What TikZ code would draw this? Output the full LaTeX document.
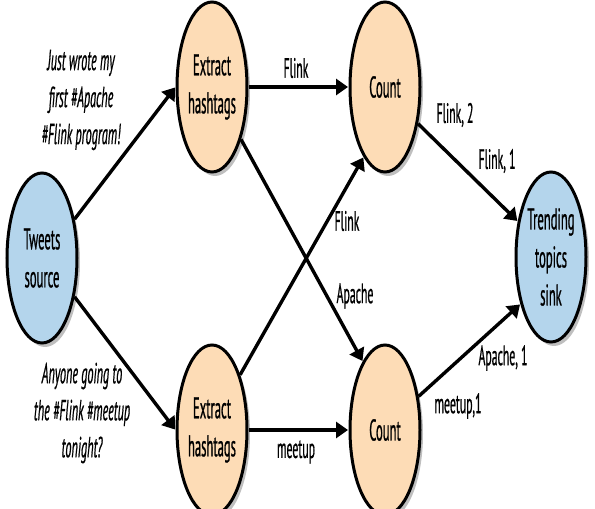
\documentclass[tikz,border=0pt]{standalone}
\usepackage{fontspec}
\setmainfont[FakeStretch=0.42,FakeBold=0.6]{PT Sans}
\usepackage{tikz}
\usetikzlibrary{positioning,shapes.geometric,shadows,arrows.meta}

\definecolor{srcblue}{HTML}{B4D5EC}
\definecolor{oporange}{HTML}{FDDCB6}

\tikzset{
  opnode/.style={ellipse, draw, line width=3pt, minimum width=70pt, minimum height=170pt,
    inner sep=0pt, align=center, font=\fontsize{30}{38}\selectfont,
    drop shadow={shadow xshift=3pt, shadow yshift=-4pt, opacity=0.25, fill=black}},
  srcnode/.style={opnode, fill=srcblue},
  task/.style={opnode, fill=oporange},
  flow/.style={line width=3.4pt, -{Triangle[length=12pt,width=16pt]}, shorten >=0.5pt},
  lbl/.style={inner sep=0pt, font=\fontsize{28}{30}\selectfont},
  tweet/.style={inner sep=0pt, align=center, font=\fontsize{29}{37}\selectfont\itshape}
}

\begin{document}
\begin{tikzpicture}[x=1pt, y=1pt]
  \useasboundingbox (0,0) rectangle (595,509);
  \clip (0,0) rectangle (595,509);
  % Define nodes
  \node[srcnode]                   (src)  at (42,251) {Tweets\\source};
  \node[task]                      (ext1) at (212,422) {Extract\\hashtags};
  \node[task, below=170pt of ext1] (ext2) {Extract\\hashtags};
  \node[task, right=100pt of ext1] (cnt1) {Count};
  \node[task, right=100pt of ext2] (cnt2) {Count};
  \node[srcnode]                   (sink) at (551,252) {Trending\\topics\\sink};

  % Tweets
  \node[tweet] (tw1) at (81,409) {Just wrote my\\first \#Apache\\\#Flink program!};
  \node[tweet] (tw2) at (82,96) {Anyone going to\\the \#Flink \#meetup\\tonight?};

  % Connect the nodes
  \draw[flow] (src.50) -- (ext1.west);
  \draw[flow] (src.-50) -- (ext2.west);
  \draw[flow] (ext1) -- (cnt1);
  \draw[flow] (ext2) -- (cnt2);
  \draw[flow] (ext1.-61) -- (cnt2.108);
  \draw[flow] (ext2.63) -- (cnt1.-107);
  \draw[flow] (cnt1.-48) -- (sink.133);
  \draw[flow] (cnt2.45) -- (sink.-123);

  % Edge labels
  \node[lbl] (lflink)  at (296,441) {Flink};
  \node[lbl] (lmeetup) at (296,57)  {meetup};
  \node[lbl] (lflinkx) at (347,288) {Flink};
  \node[lbl] (lapache) at (355,213) {Apache};
  \node[lbl] (lflink2) at (455,394) {Flink, 2};
  \node[lbl] (lflink1) at (497,348) {Flink, 1};
  \node[lbl] (lapach1) at (503,151) {Apache, 1};
  \node[lbl] (lmeet1)  at (458,103) {meetup,1};
\end{tikzpicture}
\end{document}
